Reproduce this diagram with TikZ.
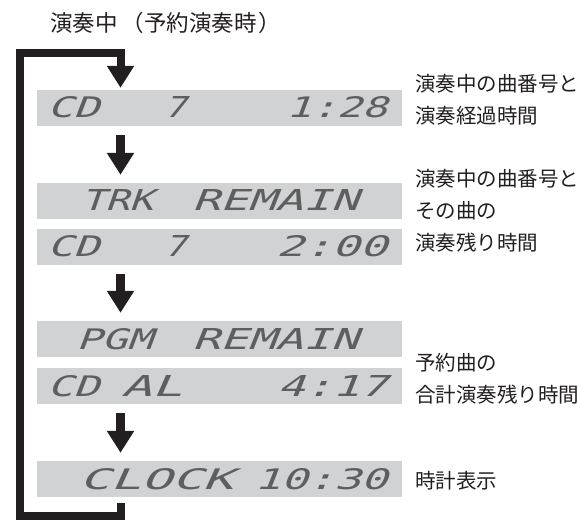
\documentclass[tikz,border=0pt]{standalone}
\usepackage{fontspec}
\usepackage{graphicx}
\usepackage{xcolor}
\usetikzlibrary{arrows.meta}
\newfontfamily\jpfont{Noto Sans CJK JP}
\newfontfamily\lcdfont[FakeSlant=0.25]{DejaVu Sans Mono}
\definecolor{lcd-gray}{HTML}{D1D2D4}
\definecolor{lcd-dots}{HTML}{5E5E5E}
\definecolor{ink}{HTML}{231F20}
\newcommand{\lcd}[2]{\resizebox{#1pt}{21pt}{\lcdfont #2}}

\begin{document}
\begin{tikzpicture}[x=1pt, y=-1pt,
    every node/.style={inner sep=0pt},
    lcdbar/.style={fill=lcd-gray, minimum width=365pt, minimum height=36pt},
    lcdtext/.style={anchor=base west, text=lcd-dots},
    note/.style={anchor=west, align=left, text=ink,
      font=\jpfont\fontsize{20.5pt}{32pt}\selectfont},
    flow/.style={line width=9pt, color=ink,
      -{Triangle[width=26pt, length=22pt]},
      shorten <=9pt, shorten >=8pt}]
    \useasboundingbox (0,0) rectangle (578,521);
    \coordinate (ax) at (120.5,0);
    \coordinate (corner) at (19.5,53);
    \node[anchor=west, text=ink, font=\jpfont\fontsize{22.5pt}{27pt}\selectfont]
      (title) at (50,23) {演奏中\hspace{4pt}（予約演奏時\hspace{2pt}）};
    \node[lcdbar] (b1) at (219.5,108) {};
    \node[lcdbar] (b2) at (219.5,201) {};
    \node[lcdbar] (b3) at (219.5,247) {};
    \node[lcdbar] (b4) at (219.5,339) {};
    \node[lcdbar] (b5) at (219.5,386) {};
    \node[lcdbar] (b6) at (219.5,479) {};
    \node[lcdtext] (t1a) at (47,118) {\lcd{52}{CD}};
    \node[lcdtext] (t1b) at (164,118) {\lcd{22}{7}};
    \node[lcdtext] (t1c) at (286,118) {\lcd{101}{1:28}};
    \node[lcdtext] (t2a) at (81,211) {\lcd{72}{TRK}};
    \node[lcdtext] (t2b) at (192,211) {\lcd{166}{REMAIN}};
    \node[lcdtext] (t3a) at (47,257) {\lcd{52}{CD}};
    \node[lcdtext] (t3b) at (164,257) {\lcd{22}{7}};
    \node[lcdtext] (t3c) at (276,257) {\lcd{111}{2:00}};
    \node[lcdtext] (t4a) at (76,349) {\lcd{76}{PGM}};
    \node[lcdtext] (t4b) at (192,349) {\lcd{166}{REMAIN}};
    \node[lcdtext] (t5a) at (47,396) {\lcd{52}{CD}};
    \node[lcdtext] (t5b) at (121,396) {\lcd{61}{AL}};
    \node[lcdtext] (t5c) at (277,396) {\lcd{110}{4:17}};
    \node[lcdtext] (t6a) at (79,489) {\lcd{154}{CLOCK}};
    \node[lcdtext] (t6b) at (254,489) {\lcd{133}{10:30}};
    \draw[flow] (b1.south -| ax) -- (b2.north -| ax);
    \draw[flow] (b3.south -| ax) -- (b4.north -| ax);
    \draw[flow] (b5.south -| ax) -- (b6.north -| ax);
    \draw[flow, line width=8pt, shorten <=6pt, shorten >=2pt]
      (b6.south -| ax) -- ++(0,19) -| (corner) -| (b1.north -| ax);
    \node[note] (n1) at (415,100) {演奏中の曲番号と\\演奏経過時間};
    \node[note] (n2) at (415,211) {演奏中の曲番号と\\その曲の\\演奏残り時間};
    \node[note] (n3) at (415,378.5) {予約曲の\\合計演奏残り時間};
    \node[note] (n4) at (415,481) {時計表示};
  \end{tikzpicture}
\end{document}
